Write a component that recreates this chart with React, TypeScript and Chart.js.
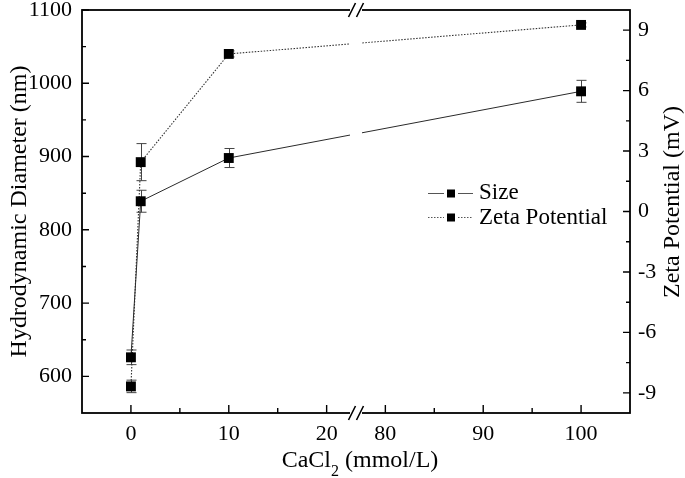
import React, { useEffect, useRef } from "react";
import { Chart, registerables } from "chart.js";

Chart.register(...registerables);

// ---- data ----
const concentrations = [0, 1, 10, 100]; // CaCl2, mmol/L
const sizeValues = [626, 839, 898, 989]; // nm
const sizeErrors = [10, 15, 13, 15];
const zetaValues = [-8.68, 2.45, 7.82, 9.26]; // mV
const zetaErrors = [0.31, 0.92, 0.15, 0.1];

const xMajorTicks = [0, 10, 20, 80, 90, 100];
const xMinorTicks = [5, 15, 85, 95];
const leftMajorTicks = [600, 700, 800, 900, 1000, 1100];
const leftMinorTicks = [650, 750, 850, 950, 1050];
const rightMajorTicks = [-9, -6, -3, 0, 3, 6, 9];
const rightMinorTicks = [-7.5, -4.5, -1.5, 1.5, 4.5, 7.5];

const seriesNames = ["Size", "Zeta Potential"];
const xTitleMain = "CaCl";
const xTitleSub = "2";
const xTitleTail = " (mmol/L)";
const yTitle = "Hydrodynamic Diameter (nm)";
const y2Title = "Zeta Potential (mV)";

// broken x axis: 23 .. 77 is removed
const BREAK_LO = 23;
const BREAK_HI = 77;
const toAxis = (v: number) => (v <= BREAK_LO ? v : v - (BREAK_HI - BREAK_LO));

const FONT = "'Times New Roman', 'Liberation Serif', serif";
const LINE_COLOR = "#2a2a2a";

const decorPlugin = {
  id: "decor",
  beforeDatasetsDraw(chart: any) {
    const ctx = chart.ctx;
    const xs = chart.scales.x;
    const ys = chart.scales.y;
    const y2s = chart.scales.y2;
    ctx.save();
    ctx.strokeStyle = "#444";
    ctx.lineWidth = 1;
    const drawErr = (vals: number[], errs: number[], scale: any) => {
      concentrations.forEach((c, i) => {
        const px = Math.round(xs.getPixelForValue(toAxis(c))) + 0.5;
        const top = scale.getPixelForValue(vals[i] + errs[i]);
        const bot = scale.getPixelForValue(vals[i] - errs[i]);
        ctx.beginPath();
        ctx.moveTo(px, top);
        ctx.lineTo(px, bot);
        ctx.moveTo(px - 5, top);
        ctx.lineTo(px + 5, top);
        ctx.moveTo(px - 5, bot);
        ctx.lineTo(px + 5, bot);
        ctx.stroke();
      });
    };
    drawErr(sizeValues, sizeErrors, ys);
    drawErr(zetaValues, zetaErrors, y2s);
    ctx.restore();
  },
  afterDraw(chart: any) {
    const ctx = chart.ctx;
    const { left, right, top, bottom } = chart.chartArea;
    const xs = chart.scales.x;
    const ys = chart.scales.y;
    const y2s = chart.scales.y2;
    ctx.save();

    // frame
    ctx.strokeStyle = "#000";
    ctx.lineWidth = 1.8;
    ctx.strokeRect(left, top, right - left, bottom - top);

    // ticks (inward)
    ctx.lineWidth = 1.4;
    ctx.beginPath();
    xMajorTicks.forEach((v) => {
      const p = xs.getPixelForValue(toAxis(v));
      ctx.moveTo(p, bottom);
      ctx.lineTo(p, bottom - 8);
    });
    xMinorTicks.forEach((v) => {
      const p = xs.getPixelForValue(toAxis(v));
      ctx.moveTo(p, bottom);
      ctx.lineTo(p, bottom - 5);
    });
    leftMajorTicks.forEach((v) => {
      const p = ys.getPixelForValue(v);
      ctx.moveTo(left, p);
      ctx.lineTo(left + 7, p);
    });
    leftMinorTicks.forEach((v) => {
      const p = ys.getPixelForValue(v);
      ctx.moveTo(left, p);
      ctx.lineTo(left + 4, p);
    });
    rightMajorTicks.forEach((v) => {
      const p = y2s.getPixelForValue(v);
      ctx.moveTo(right, p);
      ctx.lineTo(right - 7, p);
    });
    rightMinorTicks.forEach((v) => {
      const p = y2s.getPixelForValue(v);
      ctx.moveTo(right, p);
      ctx.lineTo(right - 4, p);
    });
    ctx.stroke();

    // axis break
    const bx = xs.getPixelForValue(BREAK_LO);
    ctx.fillStyle = "#fff";
    ctx.fillRect(bx - 6, top - 2, 12, bottom - top + 4);
    ctx.strokeStyle = "#000";
    ctx.lineWidth = 1.6;
    ctx.beginPath();
    [top, bottom].forEach((yy) => {
      [-4, 4].forEach((dx) => {
        ctx.moveTo(bx + dx - 3.5, yy + 7);
        ctx.lineTo(bx + dx + 3.5, yy - 7);
      });
    });
    ctx.stroke();

    // tick labels
    ctx.fillStyle = "#000";
    ctx.font = `22px ${FONT}`;
    ctx.textAlign = "center";
    ctx.textBaseline = "alphabetic";
    xMajorTicks.forEach((v) => {
      ctx.fillText(String(v), xs.getPixelForValue(toAxis(v)), bottom + 27);
    });
    ctx.textAlign = "right";
    ctx.textBaseline = "middle";
    leftMajorTicks.forEach((v) => {
      ctx.fillText(String(v), left - 10, ys.getPixelForValue(v));
    });
    ctx.textAlign = "left";
    rightMajorTicks.forEach((v) => {
      ctx.fillText(String(v), right + 8, y2s.getPixelForValue(v));
    });

    // axis titles
    ctx.font = `24px ${FONT}`;
    ctx.textBaseline = "alphabetic";
    ctx.textAlign = "center";
    ctx.save();
    ctx.translate(26, (top + bottom) / 2);
    ctx.rotate(-Math.PI / 2);
    ctx.fillText(yTitle, 0, 0);
    ctx.restore();

    ctx.save();
    ctx.translate(679, 202);
    ctx.rotate(-Math.PI / 2);
    ctx.fillText(y2Title, 0, 0);
    ctx.restore();

    // x title with subscript
    ctx.textAlign = "left";
    ctx.font = `24px ${FONT}`;
    const w1 = ctx.measureText(xTitleMain).width;
    const w3 = ctx.measureText(xTitleTail).width;
    ctx.font = `16px ${FONT}`;
    const w2 = ctx.measureText(xTitleSub).width;
    const total = w1 + w2 + w3;
    let tx = 360 - total / 2;
    const ty = 467;
    ctx.font = `24px ${FONT}`;
    ctx.fillText(xTitleMain, tx, ty);
    tx += w1;
    ctx.font = `16px ${FONT}`;
    ctx.fillText(xTitleSub, tx, ty + 9);
    tx += w2;
    ctx.font = `24px ${FONT}`;
    ctx.fillText(xTitleTail, tx, ty);

    // legend
    const legendRows = [
      { y: 193, dash: [] as number[], name: seriesNames[0], ty: 199 },
      { y: 217, dash: [1.5, 1.5], name: seriesNames[1], ty: 224 },
    ];
    ctx.font = `23px ${FONT}`;
    legendRows.forEach((r) => {
      ctx.strokeStyle = "#555";
      ctx.lineWidth = 1;
      ctx.setLineDash(r.dash);
      ctx.beginPath();
      ctx.moveTo(428, r.y + 0.5);
      ctx.lineTo(444, r.y + 0.5);
      ctx.moveTo(458, r.y + 0.5);
      ctx.lineTo(473, r.y + 0.5);
      ctx.stroke();
      ctx.setLineDash([]);
      ctx.fillStyle = "#000";
      ctx.fillRect(447, r.y - 3.5, 8, 8);
      ctx.fillText(r.name, 479, r.ty);
    });

    ctx.restore();
  },
};

export default function App() {
  const canvasRef = useRef<HTMLCanvasElement | null>(null);

  useEffect(() => {
    const canvas = canvasRef.current;
    if (!canvas) return;
    const chart = new Chart(canvas, {
      type: "line",
      data: {
        datasets: [
          {
            label: seriesNames[0],
            data: concentrations.map((c, i) => ({ x: toAxis(c), y: sizeValues[i] })),
            yAxisID: "y",
            borderColor: LINE_COLOR,
            borderWidth: 1,
            pointStyle: "rect",
            pointRadius: 7,
            pointBackgroundColor: "#000",
            pointBorderColor: "#000",
            pointBorderWidth: 0,
            tension: 0,
          },
          {
            label: seriesNames[1],
            data: concentrations.map((c, i) => ({ x: toAxis(c), y: zetaValues[i] })),
            yAxisID: "y2",
            borderColor: "#333",
            borderWidth: 1.1,
            borderDash: [1.5, 1.5],
            pointStyle: "rect",
            pointRadius: 7,
            pointBackgroundColor: "#000",
            pointBorderColor: "#000",
            pointBorderWidth: 0,
            tension: 0,
          },
        ],
      },
      options: {
        responsive: false,
        animation: false,
        devicePixelRatio: 1,
        layout: { padding: { left: 82, right: 55, top: 10, bottom: 65 } },
        plugins: { legend: { display: false }, title: { display: false }, tooltip: { enabled: false } },
        scales: {
          x: { type: "linear", min: -5, max: 51, display: false },
          y: { type: "linear", min: 550, max: 1100, display: false },
          y2: { type: "linear", min: -10, max: 10, display: false, position: "right" },
        },
      },
      plugins: [decorPlugin],
    });
    return () => chart.destroy();
  }, []);

  return (
    <div style={{ position: "fixed", left: 0, top: 0, width: 685, height: 478, background: "#fff" }}>
      <canvas ref={canvasRef} width={685} height={478} style={{ display: "block", width: 685, height: 478 }} />
    </div>
  );
}
